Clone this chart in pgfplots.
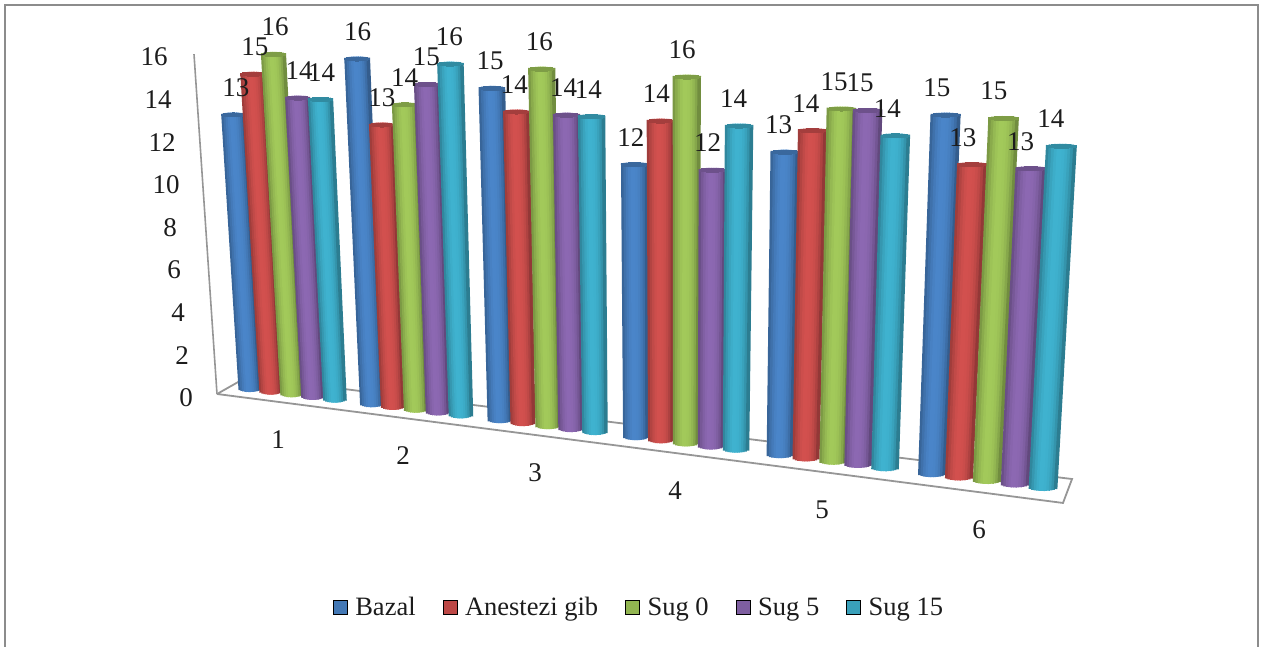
\documentclass[border=0pt]{standalone}
\usepackage{pgfplots}
\usepackage{pgfplotstable}
\usepackage{fontspec}
\pgfplotsset{compat=1.18}
\setmainfont{Liberation Serif}

\definecolor{cBazal}{HTML}{4A85C9}
\definecolor{cAnest}{HTML}{D2504E}
\definecolor{cSugA}{HTML}{A2C95A}
\definecolor{cSugB}{HTML}{8C68B2}
\definecolor{cSugC}{HTML}{3FB2CF}
\definecolor{edgegray}{HTML}{969696}
\definecolor{framegray}{HTML}{8C8C8C}
\definecolor{ink}{HTML}{1C1C1C}

% pos = bar position along the floor, val = value of the bar
\pgfplotstableread{
pos val
250 13
372 16
500 15
636 12
780 13
932 15
}\tblBazal
\pgfplotstableread{
pos val
271 15
393 13
523 14
661 14
806 14
959 13
}\tblAnest
\pgfplotstableread{
pos val
292 16
416 14
548 16
686 16
833 15
987 15
}\tblSugA
\pgfplotstableread{
pos val
313 14
438 15
571 14
711 12
858 15
1015 13
}\tblSugB
\pgfplotstableread{
pos val
335 14
461 16
595 14
736 14
885 14
1043 14
}\tblSugC

% one vertical slice of a cylinder: table, colour, offset, ellipse factor, colour share
\newcommand{\slice}[5]{%
  \addplot[forget plot, draw=#2!#5!black, line width=3.6pt,
    quiver={u={U(\thisrow{pos},\thisrow{val},#3)},
            v={H(\thisrow{pos},\thisrow{val})+6.5*#4+0.1248*U(\thisrow{pos},\thisrow{val},#3)}}]
    table[x expr={\thisrow{pos}+#3*W(\thisrow{pos})},
          y expr={-4*#4+0.1248*#3*W(\thisrow{pos})}]{#1};
}
% one slice of the lid of a cylinder
\newcommand{\lidslice}[4]{%
  \addplot[forget plot, draw=#2!78!black, line width=3.6pt,
    quiver={u={0}, v={5*#4}}]
    table[x expr={\thisrow{pos}+#3*W(\thisrow{pos})+U(\thisrow{pos},\thisrow{val},#3)},
          y expr={H(\thisrow{pos},\thisrow{val})-2.5*#4+0.1248*(#3*W(\thisrow{pos})+U(\thisrow{pos},\thisrow{val},#3))}]{#1};
}
\newcommand{\cylinders}[2]{%
  \slice{#1}{#2}{-0.43}{0.510}{76}
  \slice{#1}{#2}{-0.344}{0.726}{85}
  \slice{#1}{#2}{-0.258}{0.857}{92}
  \slice{#1}{#2}{-0.172}{0.939}{97}
  \slice{#1}{#2}{-0.086}{0.985}{100}
  \slice{#1}{#2}{0}{1}{100}
  \slice{#1}{#2}{0.086}{0.985}{99}
  \slice{#1}{#2}{0.172}{0.939}{96}
  \slice{#1}{#2}{0.258}{0.857}{91}
  \slice{#1}{#2}{0.344}{0.726}{83}
  \slice{#1}{#2}{0.43}{0.510}{70}
  \lidslice{#1}{#2}{-0.43}{0.510}
  \lidslice{#1}{#2}{-0.344}{0.726}
  \lidslice{#1}{#2}{-0.258}{0.857}
  \lidslice{#1}{#2}{-0.172}{0.939}
  \lidslice{#1}{#2}{-0.086}{0.985}
  \lidslice{#1}{#2}{0}{1}
  \lidslice{#1}{#2}{0.086}{0.985}
  \lidslice{#1}{#2}{0.172}{0.939}
  \lidslice{#1}{#2}{0.258}{0.857}
  \lidslice{#1}{#2}{0.344}{0.726}
  \lidslice{#1}{#2}{0.43}{0.510}
}
% value printed above each cylinder
\newcommand{\valuelabels}[1]{%
  \addplot[forget plot, draw=none, mark=none, point meta=explicit,
    nodes near coords, nodes near coords align={center},
    every node near coord/.style={anchor=center, inner sep=0pt, text=ink,
      font=\fontsize{27}{27}\selectfont,
      /pgf/number format/assume math mode=true,
      /pgf/number format/precision=0}]
    table[x expr={\thisrow{pos}+LX(\thisrow{pos},\thisrow{val})},
          y expr={H(\thisrow{pos},\thisrow{val})+27.5+0.1248*LX(\thisrow{pos},\thisrow{val})},
          meta=val]{#1};
}

\begin{document}
\begin{tikzpicture}[x=1pt,y=1pt]
  \path[use as bounding box] (0,0) rectangle (1262,647);
  \draw[framegray, line width=2pt] (5,0) -- (5,642) -- (1258,642) -- (1258,0);

  % floor, wall, value ticks, category ticks and legend
  \begin{axis}[
      at={(217pt,253pt)}, anchor=origin, disabledatascaling,
      x={(1pt,-0.1288pt)}, y={(-2pt,21.31pt)},
      xmin=0, xmax=846, ymin=0, ymax=16, clip=false,
      axis line style={draw=none}, major tick length=0pt,
      axis x line*=bottom, axis y line*=left,
      xtick={61,186,318,458,605,762}, xticklabels={1,2,3,4,5,6},
      ytick={0,2,...,16},
      xticklabel style={anchor=center, inner sep=0pt, yshift=-38pt, text=ink},
      yticklabel style={anchor=center, inner sep=0pt, xshift=-31pt, yshift=-4pt, text=ink},
      tick label style={font=\fontsize{27}{27}\selectfont},
      /pgf/number format/assume math mode=true,
      legend columns=5,
      legend cell align=left,
      legend style={at={(axis cs:406.9,-7.536)}, anchor=center, draw=none, fill=none,
        font=\fontsize{26.5}{26.5}\selectfont, text=ink,
        /tikz/every even column/.append style={column sep=25pt}},
      legend image code/.code={\fill[#1] (0pt,-7pt) rectangle (14pt,7pt);\path (20pt,0pt);},
    ]
    \addplot[forget plot, edgegray, line width=1.8pt] coordinates {(0,0) (846,0) (857.4,1.192) (32,0.991) (0,0)};
    \addplot[forget plot, edgegray, line width=1.6pt] coordinates {(0,0) (9,16)};
    \addlegendimage{fill=cBazal!90!black}\addlegendentry{Bazal}
    \addlegendimage{fill=cAnest!90!black}\addlegendentry{Anestezi gib}
    \addlegendimage{fill=cSugA!90!black}\addlegendentry{Sug 0}
    \addlegendimage{fill=cSugB!90!black}\addlegendentry{Sug 5}
    \addlegendimage{fill=cSugC!90!black}\addlegendentry{Sug 15}
  \end{axis}

  % cylinders, standing on the slanted floor line
  \begin{axis}[
      at={(0pt,290.2pt)}, anchor=origin, disabledatascaling,
      x={(1pt,-0.1248pt)}, y={(0pt,1pt)},
      xmin=0, xmax=1262, ymin=-100, ymax=600, clip=false, hide axis,
      declare function={
        W(\p)=22.5+0.0085*(\p-250);
        K(\p)=21.0+0.0042*(\p-250);
        L(\p)=0.000145*(\p-670);
        H(\p,\v)=\v*K(\p);
        U(\p,\v,\f)=\f*W(\p)*0.006*\v+L(\p)*H(\p,\v);
        LX(\p,\v)=L(\p)*H(\p,\v)-0.0165*(\p-400);
      },
    ]
    \cylinders{\tblBazal}{cBazal}
    \cylinders{\tblAnest}{cAnest}
    \cylinders{\tblSugA}{cSugA}
    \cylinders{\tblSugB}{cSugB}
    \cylinders{\tblSugC}{cSugC}
    \valuelabels{\tblBazal}
    \valuelabels{\tblAnest}
    \valuelabels{\tblSugA}
    \valuelabels{\tblSugB}
    \valuelabels{\tblSugC}
  \end{axis}
\end{tikzpicture}
\end{document}
